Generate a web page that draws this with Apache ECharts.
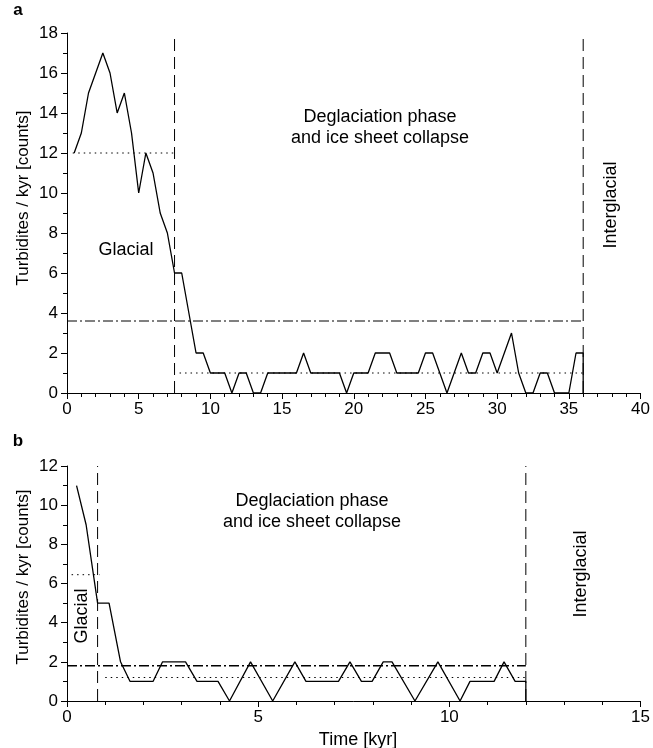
<!DOCTYPE html>
<html>
<head>
<meta charset="utf-8">
<script src="https://cdn.jsdelivr.net/npm/echarts@6/dist/echarts.min.js"></script>
<style>
  html, body { margin: 0; padding: 0; background: #fff; }
  #chart { width: 653px; height: 748px; }
</style>
</head>
<body>
<div id="chart"></div>
<script>
// panel a, turbidites per kyr over the last 40 kyr
var timeA = [0.5, 1, 1.5, 2, 2.5, 3, 3.5, 4, 4.5, 5, 5.5, 6, 6.5, 7, 7.5, 8, 8.5, 9, 9.5, 10,
  10.5, 11, 11.5, 12, 12.5, 13, 13.5, 14, 14.5, 15, 15.5, 16, 16.5, 17, 17.5, 18, 18.5, 19, 19.5, 20,
  20.5, 21, 21.5, 22, 22.5, 23, 23.5, 24, 24.5, 25, 25.5, 26, 26.5, 27, 27.5, 28, 28.5, 29, 29.5, 30,
  30.5, 31, 31.5, 32, 32.5, 33, 33.5, 34, 34.5, 35, 35.5, 36, 36]
var countsA = [12, 13, 15, 16, 17, 16, 14, 15, 13, 10, 12, 11, 9, 8, 6, 6, 4, 2, 2, 1,
  1, 1, 0, 1, 1, 0, 0, 1, 1, 1, 1, 1, 2, 1, 1, 1, 1, 1, 0, 1,
  1, 1, 2, 2, 2, 1, 1, 1, 1, 2, 2, 1, 0, 1, 2, 1, 1, 2, 2, 1,
  2, 3, 1, 0, 0, 1, 1, 0, 0, 0, 2, 2, 0]

// panel b, last 15 kyr
var timeB = [0.25, 0.5, 0.8, 1.1, 1.4, 1.65, 2.25, 2.5, 3.1, 3.4, 3.95, 4.25, 4.8, 5.38, 5.96, 6.25,
  7.1, 7.4, 7.7, 7.98, 8.27, 8.5, 9.1, 9.7, 10.28, 10.54, 11.17, 11.43, 11.72, 12, 12]
var countsB = [11, 9, 5, 5, 2, 1, 1, 2, 2, 1, 1, 0, 2, 0, 2, 1,
  1, 2, 1, 1, 2, 2, 0, 2, 0, 1, 1, 2, 1, 1, 0]

// phase boundaries (kyr) and mean rates
var phaseA = [7.5, 36]
var glacialMeanA = 12
var totalMeanA = 3.6
var deglacMeanA = 1
var phaseB = [0.8, 12]
var glacialMeanB = 6.45
var totalMeanB = 1.8
var deglacMeanB = 1.2

var font = "'Liberation Sans', Arial, sans-serif"
var dashed = [12, 6]
var dotted = [1.5, 4]
var dashDot = [10, 3, 2, 3]

function pairs(xs, ys) {
  return xs.map(function (x, i) { return [x, ys[i]] })
}

function refLine(idx, pts, dash, w) {
  return {
    type: 'line', xAxisIndex: idx, yAxisIndex: idx, data: pts,
    symbol: 'none', silent: true, animation: false,
    lineStyle: { color: '#000', width: w || 1, type: dash }
  }
}

function xAxis(idx, max, minor) {
  return {
    type: 'value', gridIndex: idx, min: 0, max: max, interval: 5,
    axisLine: { onZero: false, lineStyle: { color: '#000', width: 1 } },
    axisTick: { inside: false, length: 6, lineStyle: { color: '#000' } },
    minorTick: { show: true, splitNumber: minor, length: 4, lineStyle: { color: '#000' } },
    splitLine: { show: false },
    axisLabel: { color: '#000', fontSize: 17, fontFamily: font, margin: 8 }
  }
}

function yAxis(idx, max) {
  return {
    type: 'value', gridIndex: idx, min: 0, max: max, interval: 2,
    axisLine: { show: true, lineStyle: { color: '#000', width: 1 } },
    axisTick: { show: true, inside: false, length: 6, lineStyle: { color: '#000' } },
    minorTick: { show: true, splitNumber: 2, length: 4, lineStyle: { color: '#000' } },
    splitLine: { show: false },
    axisLabel: { color: '#000', fontSize: 17, fontFamily: font, margin: 9 }
  }
}

function txt(x, y, s, opts) {
  opts = opts || {}
  return {
    type: 'text', x: x, y: y, rotation: opts.rot || 0,
    style: {
      text: s, fill: '#000', font: (opts.bold ? 'bold ' : '') + (opts.size || 18) + 'px ' + font,
      align: opts.align || 'center', verticalAlign: 'middle', lineHeight: 21
    }
  }
}

var chart = echarts.init(document.getElementById('chart'), null, { renderer: 'canvas' })

chart.setOption({
  animation: false,
  grid: [
    { left: 67, top: 33, width: 576, height: 360 },
    { left: 67, top: 466, width: 575, height: 235 }
  ],
  xAxis: [xAxis(0, 40, 5), xAxis(1, 15, 5)],
  yAxis: [yAxis(0, 18), yAxis(1, 12)],
  series: [
    refLine(0, [[phaseA[0], 0], [phaseA[0], 18]], dashed),
    refLine(0, [[phaseA[1], 0], [phaseA[1], 18]], dashed),
    refLine(0, [[0.4, glacialMeanA], [phaseA[0], glacialMeanA]], dotted),
    refLine(0, [[0, totalMeanA], [phaseA[1], totalMeanA]], dashDot),
    refLine(0, [[7.85, deglacMeanA], [phaseA[1], deglacMeanA]], dotted),
    refLine(1, [[phaseB[0], 0], [phaseB[0], 12]], dashed),
    refLine(1, [[phaseB[1], 0], [phaseB[1], 12]], dashed),
    refLine(1, [[0.12, glacialMeanB], [phaseB[0] + 0.05, glacialMeanB]], dotted),
    refLine(1, [[0, totalMeanB], [phaseB[1], totalMeanB]], dashDot, 1.6),
    refLine(1, [[1.0, deglacMeanB], [phaseB[1], deglacMeanB]], dotted),
    {
      type: 'line', xAxisIndex: 0, yAxisIndex: 0, data: pairs(timeA, countsA),
      symbol: 'none', lineStyle: { color: '#000', width: 1.3 }
    },
    {
      type: 'line', xAxisIndex: 1, yAxisIndex: 1, data: pairs(timeB, countsB),
      symbol: 'none', lineStyle: { color: '#000', width: 1.3 }
    }
  ],
  graphic: [
    txt(18, 10, 'a', { bold: true, size: 17 }),
    txt(18, 441, 'b', { bold: true, size: 17 }),
    txt(23, 198, 'Turbidites / kyr [counts]', { rot: Math.PI / 2, size: 17 }),
    txt(23, 577, 'Turbidites / kyr [counts]', { rot: Math.PI / 2, size: 17 }),
    txt(380, 128, 'Deglaciation phase\nand ice sheet collapse'),
    txt(126, 250, 'Glacial'),
    txt(611, 205, 'Interglacial', { rot: Math.PI / 2 }),
    txt(312, 512, 'Deglaciation phase\nand ice sheet collapse'),
    txt(82, 616, 'Glacial', { rot: Math.PI / 2 }),
    txt(581, 574, 'Interglacial', { rot: Math.PI / 2 }),
    txt(358, 740, 'Time [kyr]', { size: 18 })
  ]
})
</script>
</body>
</html>
